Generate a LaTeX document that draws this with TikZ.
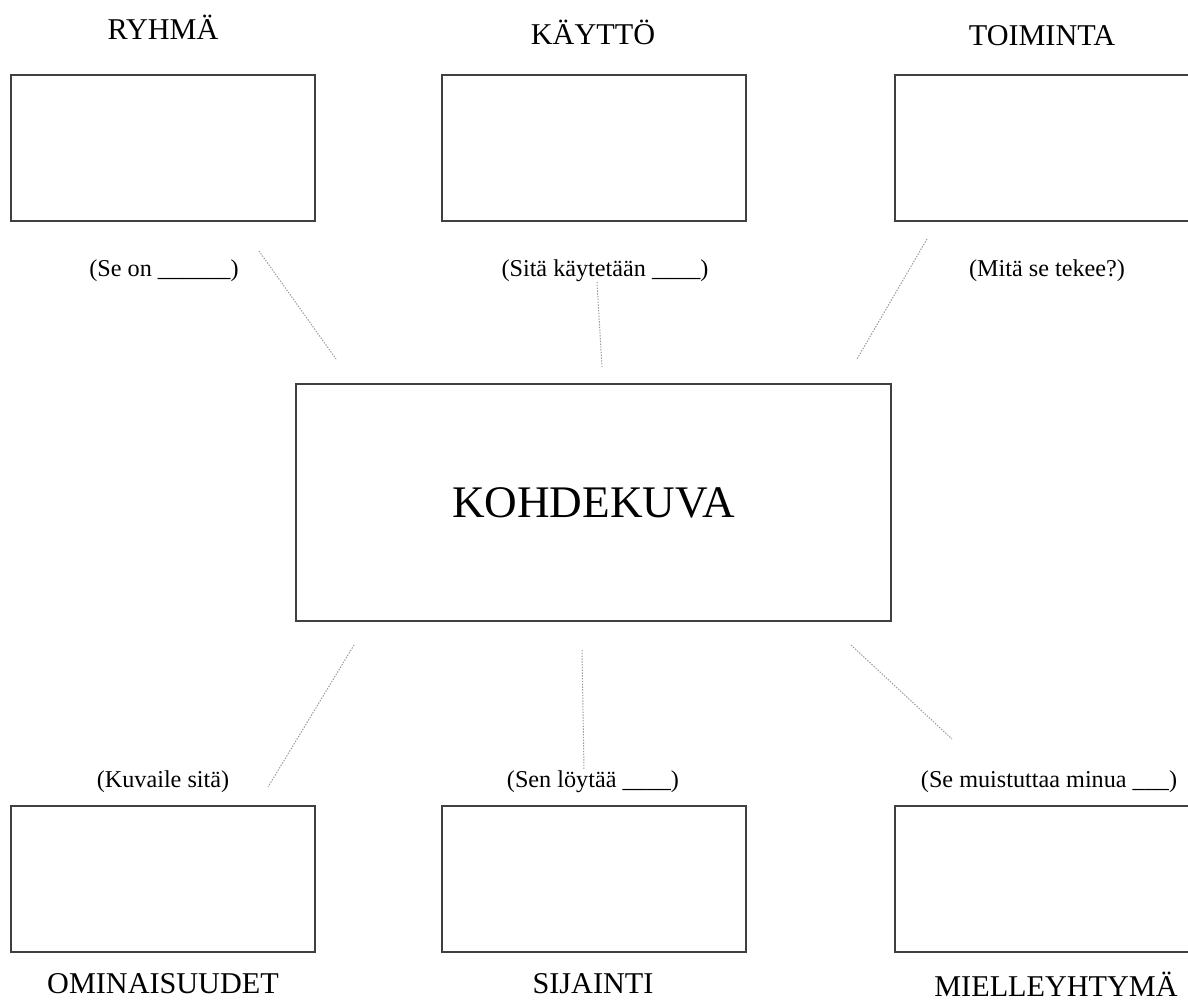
\documentclass[tikz,border=0pt]{standalone}
\usepackage{fontspec}
\setmainfont{Liberation Serif}
\usetikzlibrary{positioning,calc}

\begin{document}
\begin{tikzpicture}[x=0.5pt,y=-0.5pt,
  box/.style={draw=black!75,line width=0.6pt,minimum width=152pt,minimum height=73pt,inner sep=0pt},
  title/.style={font=\fontsize{15.1}{18}\selectfont},
  ask/.style={font=\fontsize{12.1}{14}\selectfont},
  link/.style={draw=black!40,line width=0.5pt,dash pattern=on 0.7pt off 0.7pt}]
\useasboundingbox (0,0) rectangle (1188,1006);
% laatikot
\node [box] (Ryhma) at (163,148) {};
\node [box] (Kaytto) at (594,148) {};
\node [box] (Toiminta) at (1047,148) {};
\node [box,minimum width=297.5pt,minimum height=118.5pt] (Kohde) at (593.5,502.5)
      {\fontsize{22.6}{27}\selectfont KOHDEKUVA};
\node [box] (Ominais) at (163,879) {};
\node [box] (Sijainti) at (594,879) {};
\node [box] (Mielle) at (1047,879) {};
% otsikot
\node [title] (RyhmaT) at (163,27) {RYHMÄ};
\node [title] (KayttoT) at (593,32) {KÄYTTÖ};
\node [title] (ToimintaT) at (1042,36) {TOIMINTA};
\node [title] (OminaisT) at (163,984) {OMINAISUUDET};
\node [title] (SijaintiT) at (593,984) {SIJAINTI};
\node [title] (MielleT) at (1056,984) {MIELLEYHTYMÄ};
% kysymykset
\node [ask] (RyhmaQ) at (164,271) {(Se on \_\_\_\_\_\_)};
\node [ask] (KayttoQ) at (605,271) {(Sitä käytetään \_\_\_\_)};
\node [ask] (ToimintaQ) at (1047,271) {(Mitä se tekee?)};
\node [ask] (OminaisQ) at (163,782) {(Kuvaile sitä)};
\node [ask] (SijaintiQ) at (593,782) {(Sen löytää \_\_\_\_)};
\node [ask] (MielleQ) at (1049,782) {(Se muistuttaa minua \_\_\_)};
% viivat
\coordinate (r1) at (259,251); \coordinate (r2) at (336,359);
\coordinate (k1) at (597,282); \coordinate (k2) at (602,367);
\coordinate (t1) at (927,239); \coordinate (t2) at (857,359);
\coordinate (o1) at (354,645); \coordinate (o2) at (268,787);
\coordinate (s1) at (582,650); \coordinate (s2) at (584,770);
\coordinate (m1) at (851,645); \coordinate (m2) at (952,739);
\draw [link] (r1) -- (r2);
\draw [link] (k1) -- (k2);
\draw [link] (t1) -- (t2);
\draw [link] (o1) -- (o2);
\draw [link] (s1) -- (s2);
\draw [link] (m1) -- (m2);
\end{tikzpicture}
\end{document}
